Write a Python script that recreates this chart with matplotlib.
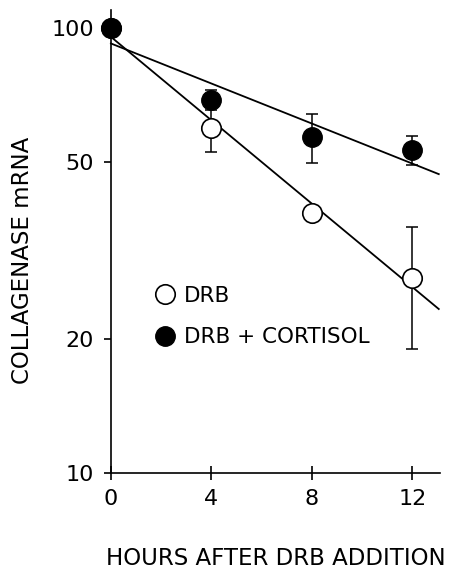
import numpy as np
import matplotlib.pyplot as plt
from matplotlib.ticker import FixedLocator, NullLocator

plt.rcParams['font.family'] = ['DejaVu Sans']

hours = [0, 4, 8, 12]
drb = [100, 59.6, 38.5, 27.4]
drb_err = [0, 7.0, 0, 8.4]
cort = [100, 69.2, 57.1, 53.4]
cort_err = [0, 3.5, 7.2, 4.0]
yticks = [10, 20, 50, 100]
xticks = [0, 4, 8, 12]

fig = plt.figure(figsize=(4.49, 5.73), dpi=100)
ax = fig.add_axes([0.247, 0.1745, 0.733, 0.808])
ax.set_yscale('log')
ax.set_xlim(0, 13.1)
ax.set_ylim(10, 110)

# fitted lines (log-linear regression on the points)
xf = np.array([0, 13.05])
for ys in (drb, cort):
    p = np.polyfit(hours, np.log10(ys), 1)
    ax.plot(xf, 10 ** np.polyval(p, xf), color='black', lw=1.3, zorder=2, clip_on=False)

ax.errorbar(hours, drb, yerr=drb_err, fmt='none', ecolor='black', elinewidth=1.1,
            capsize=4.5, capthick=1.1, zorder=1)
ax.errorbar(hours, cort, yerr=cort_err, fmt='none', ecolor='black', elinewidth=1.1,
            capsize=4.5, capthick=1.1, zorder=1)
ax.plot(hours, drb, 'o', ms=14, mfc='white', mec='black', mew=1.2, zorder=3,
        clip_on=False, label='DRB')
ax.plot(hours, cort, 'o', ms=14, mfc='black', mec='black', zorder=4,
        clip_on=False, label='DRB + CORTISOL')

ax.spines['top'].set_visible(False)
ax.spines['right'].set_visible(False)
ax.spines['left'].set_linewidth(1.2)
ax.spines['bottom'].set_linewidth(1.2)

ax.yaxis.set_major_locator(FixedLocator(yticks))
ax.yaxis.set_minor_locator(NullLocator())
ax.set_yticklabels([str(v) for v in yticks])
ax.set_xticks(xticks)
ax.tick_params(axis='y', direction='out', length=5, width=1.2, pad=7, labelsize=16)
ax.tick_params(axis='x', direction='inout', length=9.5, width=1.2, pad=7, labelsize=16)

ax.set_xlabel('HOURS AFTER DRB ADDITION', fontsize=16.5, labelpad=27)
fig.text(0.05, 0.546, 'COLLAGENASE mRNA', rotation=90, fontsize=16.5,
         ha='center', va='center')

ax.legend(loc='center left', bbox_to_anchor=(0.065, 0.338), frameon=False,
          fontsize=15.5, handletextpad=0.3, labelspacing=1.0, markerscale=1.0,
          handlelength=1.2)

fig.savefig('out.png', dpi=100)
